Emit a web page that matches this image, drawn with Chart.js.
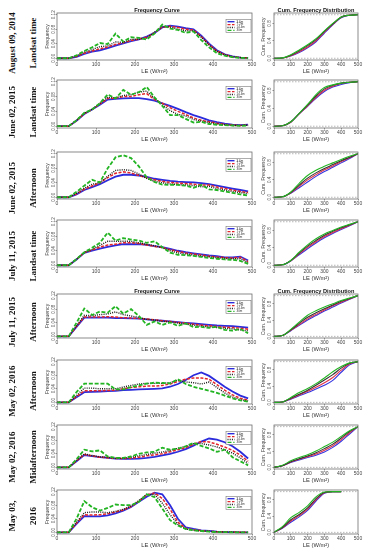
<!DOCTYPE html>
<html>
<head>
<meta charset="utf-8">
<script src="https://cdn.jsdelivr.net/npm/chart.js@4.4.0/dist/chart.umd.min.js"></script>
<style>
 body{margin:0;width:369px;height:550px;position:relative;overflow:hidden;background:#fff;font-family:"Liberation Sans",Arial,sans-serif}
 .rl{position:absolute;font-family:"Liberation Serif","Times New Roman",serif;font-weight:bold;font-size:9px;color:#111;white-space:nowrap;transform:translate(-50%,-50%) rotate(-90deg)}
 .ttl{position:absolute;font-weight:bold;font-size:5.6px;color:#111;white-space:nowrap;transform:translate(-50%,-50%)}
</style>
</head>
<body>
<script>
// x positions of the frequency curve points and of the cumulative curve points
const LE = [0,30,50,70,90,110,130,150,170,190,210,230,250,270,290,310,330,350,370,390,410,430,450,470,490];
const cumLE = [0,50,100,150,200,250,300,350,400,450,500];

const series = ['3.6m','7.2m','14.4m','30m'];
const xTicks = [0,100,200,300,400,500];
const freqYTicks = [0,0.04,0.08,0.12];
const freqYLabels = ['0.00','0.04','0.08','0.12'];
const cumYTicks = [0,0.4,0.8];
const cumYLabels = ['0.0','0.4','0.8'];

const dates = ['August 09, 2014','June 02, 2015','June 02, 2015','July 11, 2015','July 11, 2015','May 02, 2016','May 02, 2016','May 03,'];
const times = ['Landsat time','Landsat time','Afternoon','Landsat time','Afternoon','Afternoon','Midafternoon','2016'];

// row 1 - August 09, 2014, Landsat time
const f1_36  = [0,0,.004,.012,.018,.022,.028,.035,.041,.047,.052,.060,.070,.085,.090,.087,.083,.080,.062,.040,.022,.011,.005,.002,.001];
const f1_72  = [0,0,.005,.014,.020,.026,.031,.038,.043,.049,.053,.058,.070,.086,.088,.085,.080,.078,.060,.038,.020,.010,.004,.002,.001];
const f1_144 = [0,0,.006,.017,.024,.032,.034,.045,.044,.052,.053,.055,.072,.088,.086,.080,.076,.076,.058,.036,.019,.009,.004,.002,.001];
const f1_30  = [0,0,.008,.020,.030,.042,.039,.068,.046,.058,.056,.052,.068,.093,.082,.078,.070,.074,.050,.030,.014,.007,.003,.001,0];
const c1_36  = [0,.005,.05,.13,.24,.38,.58,.77,.93,.99,1];
const c1_72  = [0,.006,.06,.15,.26,.40,.60,.78,.94,.99,1];
const c1_144 = [0,.007,.07,.17,.29,.43,.62,.79,.95,.99,1];
const c1_30  = [0,.008,.08,.19,.31,.45,.63,.80,.95,.99,1];

// row 2 - June 02, 2015, Landsat time
const f2_36  = [0,0,.015,.033,.045,.058,.072,.074,.075,.076,.076,.073,.069,.062,.055,.047,.038,.030,.023,.016,.011,.007,.004,.003,.004];
const f2_72  = [0,0,.015,.034,.045,.060,.075,.076,.080,.080,.085,.088,.072,.062,.050,.040,.032,.022,.016,.012,.008,.005,.003,.002,.003];
const f2_144 = [0,0,.016,.035,.046,.062,.078,.077,.083,.085,.092,.095,.075,.058,.042,.032,.028,.018,.014,.010,.006,.004,.002,.002,.003];
const f2_30  = [0,0,.016,.036,.045,.062,.086,.075,.098,.085,.092,.106,.078,.055,.030,.030,.020,.010,.012,.006,.004,.003,.002,.001,.002];
const c2_36  = [0,.01,.09,.28,.45,.63,.78,.88,.94,.98,1];
const c2_72  = [0,.01,.09,.28,.46,.65,.81,.90,.96,.99,1];
const c2_144 = [0,.01,.10,.29,.48,.68,.84,.92,.97,.99,1];
const c2_30  = [0,.01,.10,.29,.49,.71,.87,.93,.97,.99,1];

// row 3 - June 02, 2015, Afternoon
const f3_36  = [0,0,.008,.020,.028,.036,.047,.057,.062,.062,.060,.056,.051,.048,.045,.043,.042,.041,.039,.036,.032,.028,.024,.020,.016];
const f3_72  = [0,0,.009,.022,.031,.040,.054,.066,.070,.067,.060,.054,.048,.044,.041,.039,.038,.036,.034,.034,.028,.024,.020,.016,.013];
const f3_144 = [0,0,.011,.025,.036,.040,.058,.074,.076,.074,.064,.052,.044,.040,.037,.035,.034,.032,.029,.030,.024,.020,.016,.013,.010];
const f3_30  = [0,0,.015,.032,.048,.041,.080,.110,.116,.108,.085,.055,.042,.035,.034,.034,.032,.026,.034,.022,.020,.016,.012,.008,.005];
const c3_36  = [0,.01,.09,.22,.35,.48,.59,.69,.79,.89,1];
const c3_72  = [0,.01,.10,.25,.40,.52,.63,.72,.82,.91,1];
const c3_144 = [0,.01,.11,.28,.44,.56,.66,.75,.84,.92,1];
const c3_30  = [0,.01,.12,.32,.50,.62,.71,.79,.87,.94,1];

// row 4 - July 11, 2015, Landsat time
const f4_36  = [0,0,.016,.034,.040,.046,.051,.055,.058,.058,.058,.056,.053,.050,.045,.040,.036,.033,.030,.027,.025,.022,.022,.024,.013];
const f4_72  = [0,0,.016,.035,.042,.050,.056,.058,.062,.062,.060,.056,.052,.049,.043,.038,.034,.031,.028,.025,.023,.021,.020,.022,.010];
const f4_144 = [0,0,.017,.035,.044,.055,.066,.066,.066,.066,.062,.058,.054,.048,.040,.034,.031,.028,.025,.023,.021,.019,.018,.018,.007];
const f4_30  = [0,0,.017,.036,.048,.062,.090,.068,.075,.071,.068,.062,.066,.050,.035,.029,.028,.026,.023,.020,.018,.016,.015,.012,.004];
const c4_36  = [0,.01,.10,.24,.38,.51,.63,.73,.82,.91,1];
const c4_72  = [0,.01,.10,.26,.41,.54,.66,.75,.84,.92,1];
const c4_144 = [0,.01,.11,.28,.44,.57,.69,.78,.86,.93,1];
const c4_30  = [0,.01,.11,.30,.47,.61,.72,.80,.88,.94,1];

// row 5 - July 11, 2015, Afternoon
const f5_36  = [0,0,.028,.055,.055,.055,.055,.054,.054,.053,.052,.050,.048,.046,.044,.042,.040,.038,.036,.034,.032,.031,.030,.028,.026];
const f5_72  = [0,0,.029,.057,.057,.057,.058,.057,.055,.054,.053,.051,.049,.046,.044,.041,.039,.036,.033,.031,.029,.027,.026,.024,.021];
const f5_144 = [0,0,.031,.062,.061,.064,.066,.072,.064,.060,.056,.050,.048,.044,.042,.039,.036,.033,.030,.028,.026,.024,.022,.019,.016];
const f5_30  = [0,0,.040,.082,.063,.073,.070,.089,.067,.080,.060,.034,.044,.034,.041,.031,.038,.027,.028,.025,.028,.019,.017,.022,.009];
const c5_36  = [0,.02,.14,.27,.40,.51,.62,.72,.82,.91,1];
const c5_72  = [0,.02,.15,.29,.43,.54,.65,.75,.84,.92,1];
const c5_144 = [0,.02,.16,.32,.47,.58,.68,.77,.86,.93,1];
const c5_30  = [0,.02,.17,.35,.52,.63,.72,.80,.88,.94,1];

// row 6 - May 02, 2016, Afternoon
const f6_36  = [0,0,.015,.030,.031,.032,.033,.034,.036,.037,.038,.039,.040,.041,.046,.054,.066,.080,.088,.078,.062,.046,.032,.020,.012];
const f6_72  = [0,0,.017,.034,.034,.034,.035,.036,.040,.044,.046,.048,.048,.050,.054,.062,.068,.072,.072,.068,.052,.036,.022,.012,.006];
const f6_144 = [0,0,.020,.042,.042,.040,.040,.040,.045,.050,.054,.056,.056,.056,.058,.066,.060,.058,.054,.060,.044,.028,.016,.008,.004];
const f6_30  = [0,0,.030,.055,.055,.055,.055,.038,.038,.045,.050,.055,.058,.057,.056,.068,.054,.046,.040,.034,.028,.020,.012,.006,.002];
const c6_36  = [0,.01,.08,.16,.24,.33,.42,.54,.74,.92,1];
const c6_72  = [0,.01,.09,.18,.27,.37,.48,.61,.79,.94,1];
const c6_144 = [0,.01,.10,.20,.30,.42,.55,.68,.84,.96,1];
const c6_30  = [0,.01,.12,.24,.34,.46,.60,.75,.88,.97,1];

// row 7 - May 02, 2016, Midafternoon
const f7_36  = [0,0,.018,.036,.033,.030,.028,.026,.025,.025,.026,.028,.031,.035,.040,.046,.054,.064,.076,.085,.082,.074,.062,.046,.026];
const f7_72  = [0,0,.019,.038,.034,.030,.028,.026,.026,.027,.030,.034,.037,.040,.046,.052,.058,.068,.076,.075,.068,.060,.050,.036,.018];
const f7_144 = [0,0,.020,.040,.035,.031,.030,.027,.027,.030,.034,.038,.042,.045,.050,.056,.062,.070,.070,.066,.060,.052,.042,.028,.012];
const f7_30  = [0,0,.024,.052,.047,.050,.032,.028,.028,.032,.040,.044,.046,.058,.052,.055,.062,.072,.063,.056,.046,.052,.030,.018,.006];
const c7_36  = [0,.04,.12,.18,.24,.30,.38,.49,.64,.82,1];
const c7_72  = [0,.04,.13,.20,.26,.33,.42,.53,.68,.85,1];
const c7_144 = [0,.04,.14,.21,.28,.36,.46,.57,.72,.88,1];
const c7_30  = [0,.05,.16,.24,.31,.40,.51,.62,.76,.90,1];

// row 8 - May 03, 2016
const f8_36  = [0,0,.025,.048,.047,.047,.050,.056,.064,.075,.090,.105,.117,.112,.080,.040,.015,.010,.006,.004,.002,.001,.001,0,0];
const f8_72  = [0,0,.027,.052,.051,.052,.055,.060,.066,.076,.092,.110,.116,.100,.068,.030,.012,.008,.005,.003,.002,.001,.001,0,0];
const f8_144 = [0,0,.030,.058,.060,.060,.058,.062,.068,.078,.094,.112,.112,.086,.052,.024,.010,.006,.004,.003,.002,.001,.001,0,0];
const f8_30  = [0,0,.040,.092,.074,.064,.072,.082,.080,.080,.090,.112,.104,.070,.036,.020,.010,.006,.004,.002,.001,.001,0,0,0];
const c8_36  = [0,.10,.25,.38,.54,.77,.96,1,1,null,null];
const c8_72  = [0,.11,.28,.41,.57,.80,.97,1,1,null,null];
const c8_144 = [0,.12,.31,.44,.60,.83,.98,1,1,null,null];
const c8_30  = [0,.14,.36,.49,.65,.87,.99,1,1,null,null];

const freqRows = [
 [f1_36,f1_72,f1_144,f1_30],[f2_36,f2_72,f2_144,f2_30],[f3_36,f3_72,f3_144,f3_30],[f4_36,f4_72,f4_144,f4_30],
 [f5_36,f5_72,f5_144,f5_30],[f6_36,f6_72,f6_144,f6_30],[f7_36,f7_72,f7_144,f7_30],[f8_36,f8_72,f8_144,f8_30]
];
const cumRows = [
 [c1_36,c1_72,c1_144,c1_30],[c2_36,c2_72,c2_144,c2_30],[c3_36,c3_72,c3_144,c3_30],[c4_36,c4_72,c4_144,c4_30],
 [c5_36,c5_72,c5_144,c5_30],[c6_36,c6_72,c6_144,c6_30],[c7_36,c7_72,c7_144,c7_30],[c8_36,c8_72,c8_144,c8_30]
];

// layout (plot box top / bottom of every row, label centres)
const boxTop = [13,80,152,220,294,360,425,490];
const boxBottom = [60,128,199,267,338,404,469,534];
const labelY = [43,112,188,256,322,391,457,516];

const freqStyles = [
 {color:'#2c2cdc', width:1.8, dash:[]},
 {color:'#e3262b', width:1.5, dash:[3,1.5]},
 {color:'#1a1a1a', width:1.4, dash:[1,1.2]},
 {color:'#22b422', width:1.8, dash:[4,1.8]}
];
const cumStyles = [
 {color:'#3535e0', width:1.1, dash:[]},
 {color:'#e0304a', width:1.1, dash:[]},
 {color:'#333333', width:1.1, dash:[]},
 {color:'#22b422', width:1.1, dash:[]}
];

Chart.defaults.font.family = '"Liberation Sans", Arial, sans-serif';

const boxPlugin = {
 id:'box',
 beforeDatasetsDraw(chart, args, o){
   if(!o.refLines) return;
   const {ctx, chartArea:a, scales:{y}} = chart;
   ctx.save();
   ctx.strokeStyle = '#9a9a9a'; ctx.lineWidth = 0.7; ctx.setLineDash([1.5,1.5]);
   o.refLines.forEach(v=>{
     const py = y.getPixelForValue(v);
     ctx.beginPath(); ctx.moveTo(a.left,py); ctx.lineTo(a.right,py); ctx.stroke();
   });
   ctx.restore();
 },
 afterDraw(chart, args, o){
   const {ctx, chartArea:a, scales:{y}} = chart;
   ctx.save();
   ctx.strokeStyle = '#6e6e6e'; ctx.lineWidth = 0.8; ctx.setLineDash([]);
   ctx.strokeRect(a.left, a.top, a.right-a.left, a.bottom-a.top);

   // y tick labels, turned like the R axis
   ctx.fillStyle = '#555'; ctx.font = '4.6px "Liberation Sans", Arial';
   ctx.textAlign = 'center'; ctx.textBaseline = 'middle';
   o.yTicks.forEach((v,i)=>{
     const py = y.getPixelForValue(v);
     ctx.save(); ctx.translate(a.left-o.labelOff, py); ctx.rotate(-Math.PI/2);
     ctx.fillText(o.yLabels[i],0,0); ctx.restore();
   });

   if(o.legend){
     const lw = 25, lh = 13, lx = a.right-lw-1, ly = a.top+6.5;
     ctx.fillStyle = '#fff'; ctx.fillRect(lx,ly,lw,lh);
     ctx.strokeStyle = '#777'; ctx.lineWidth = 0.6; ctx.strokeRect(lx,ly,lw,lh);
     chart.data.datasets.forEach((ds,i)=>{
       const yy = ly+2.2+i*2.9;
       ctx.strokeStyle = ds.borderColor; ctx.lineWidth = Math.min(ds.borderWidth,1.4); ctx.setLineDash(ds.borderDash);
       ctx.beginPath(); ctx.moveTo(lx+1.5,yy); ctx.lineTo(lx+8.5,yy); ctx.stroke();
       ctx.setLineDash([]);
       ctx.fillStyle = '#333'; ctx.font = '3px "Liberation Sans", Arial';
       ctx.textAlign = 'left'; ctx.textBaseline = 'middle';
       ctx.fillText(ds.label, lx+10.5, yy);
     });
   }
   ctx.restore();
 }
};

function addChart(left, top, w, h, padRight, yWidth, xs, sets, styles, o){
 const cv = document.createElement('canvas');
 cv.width = w; cv.height = h;
 cv.style.cssText = `position:absolute;left:${left}px;top:${top}px;width:${w}px;height:${h}px`;
 document.body.appendChild(cv);

 new Chart(cv, {
   type:'line',
   data:{
     datasets: sets.map((vals,i)=>({
       label: series[i],
       data: xs.map((x,j)=>({x:x, y:vals[j]})),
       borderColor: styles[i].color,
       borderWidth: styles[i].width,
       borderDash: styles[i].dash,
       pointRadius:0,
       tension: o.smooth ? 0.4 : 0,
       cubicInterpolationMode: o.smooth ? 'monotone' : 'default',
       fill:false,
       order: 4-i
     }))
   },
   options:{
     responsive:false, animation:false, devicePixelRatio:1,
     layout:{padding:{top:6, right:padRight, left:0, bottom:0}},
     plugins:{
       legend:{display:false}, tooltip:{enabled:false},
       box:{yTicks:o.yTicks, yLabels:o.yLabels, legend:o.legend, refLines:o.refLines, labelOff:o.labelOff}
     },
     scales:{
       x:{
         type:'linear', min:0, max:500,
         afterBuildTicks: s=>{ s.ticks = xTicks.map(v=>({value:v})); },
         afterFit: s=>{ s.height = 15; },
         grid:{drawOnChartArea:false, tickLength:1.5, color:'#666', lineWidth:0.7},
         border:{display:false},
         ticks:{font:{size:5}, color:'#444', padding:0, maxRotation:0, minRotation:0, autoSkip:false},
         title:{display:true, text:'LE (W/m²)', font:{size:5.8}, color:'#333', padding:{top:0, bottom:0.3}}
       },
       y:{
         type:'linear', min:o.yMin, max:o.yMax,
         afterBuildTicks: s=>{ s.ticks = o.yTicks.map(v=>({value:v})); },
         afterFit: s=>{ s.width = yWidth; },
         grid:{drawOnChartArea:false, tickLength:1.5, color:'#666', lineWidth:0.7},
         border:{display:false},
         ticks:{display:false},
         title:{display:true, text:o.yTitle, font:{size:5.2}, color:'#444', padding:{top:o.yTitlePad, bottom:0}}
       }
     }
   },
   plugins:[boxPlugin]
 });
}

for(let r=0; r<8; r++){
 const top = boxTop[r]-6;
 const h = boxBottom[r]-boxTop[r]+6+15;
 addChart(40, top, 222, h, 10, 17, LE, freqRows[r], freqStyles, {
   yMin:-0.0048, yMax:0.1248, yTicks:freqYTicks, yLabels:freqYLabels,
   yTitle:'Frequency', yTitlePad:4.9, legend:true, refLines:null, labelOff:3.5, smooth:false
 });
 addChart(256, top, 113, h, 11, 18, cumLE, cumRows[r], cumStyles, {
   yMin:-0.04, yMax:1.04, yTicks:cumYTicks, yLabels:cumYLabels,
   yTitle:'Cum. Frequency', yTitlePad:4.6, legend:false, refLines:[0,1], labelOff:4, smooth:true
 });

 const d = document.createElement('div');
 d.className = 'rl'; d.textContent = dates[r];
 d.style.left = '12px'; d.style.top = labelY[r]+'px';
 document.body.appendChild(d);
 const t = document.createElement('div');
 t.className = 'rl'; t.textContent = times[r];
 t.style.left = '33px'; t.style.top = labelY[r]+'px';
 document.body.appendChild(t);
}

// panel titles over rows 1 and 5
[0,4].forEach(r=>{
 const y = boxTop[r]-3;
 const a = document.createElement('div');
 a.className = 'ttl'; a.textContent = 'Frequency Curve';
 a.style.left = '157px'; a.style.top = y+'px';
 document.body.appendChild(a);
 const b = document.createElement('div');
 b.className = 'ttl'; b.textContent = 'Cum. Frequency Distribution';
 b.style.left = '316px'; b.style.top = y+'px';
 document.body.appendChild(b);
});
</script>
</body>
</html>
